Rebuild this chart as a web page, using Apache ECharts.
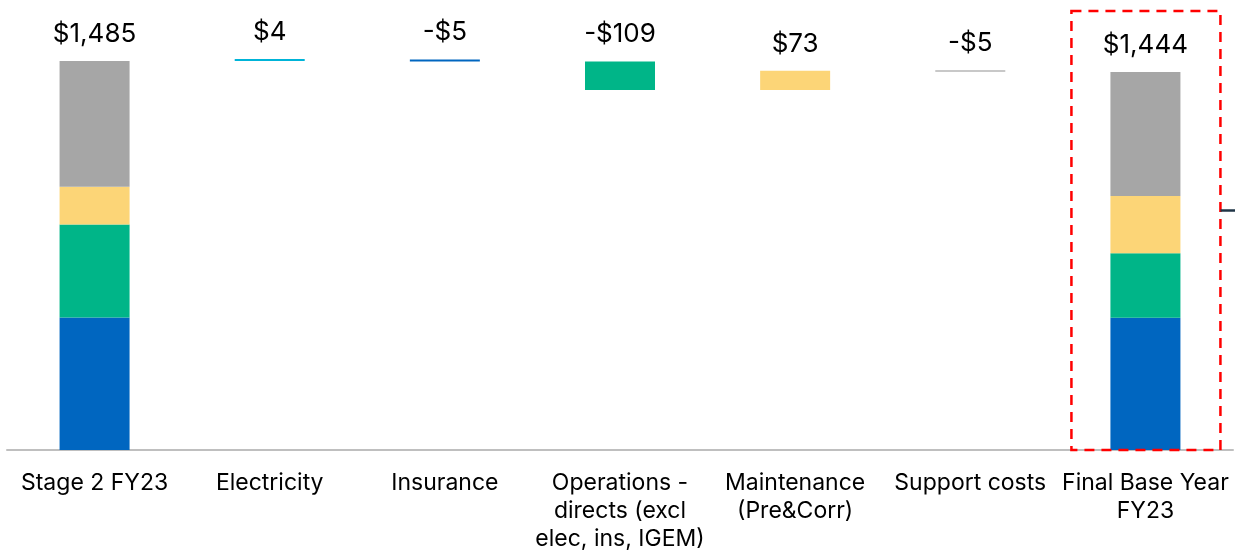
<!DOCTYPE html>
<html>
<head>
<meta charset="utf-8">
<script src="https://cdn.jsdelivr.net/npm/echarts@6/dist/echarts.min.js"></script>
<style>html,body{margin:0;padding:0;background:#fff;}#c{width:1235px;height:553px;}</style>
</head>
<body>
<div id="c"></div>
<script>
const categories = ['Stage 2 FY23','Electricity','Insurance','Operations -\ndirects (excl\nelec, ins, IGEM)','Maintenance\n(Pre&Corr)','Support costs','Final Base Year\nFY23'];
// stacked composition of the two total bars (start, end)
const startSegments = [506, 355, 144, 480];   // blue, green, yellow, gray
const endSegments   = [505, 246, 219, 473];
const changes = [4, -5, -109, 73, -5];
const changeColors = ['#00B4D8', '#0066C0', '#00B588', '#FCD577', '#C8C8C8'];
const segmentColors = ['#0066C0', '#00B588', '#FCD577', '#A6A6A6'];
const valueLabels = ['$1,485','$4','-$5','-$109','$73','-$5','$1,444'];

const n = categories.length;
const startTotal = startSegments.reduce((a,b)=>a+b,0);
const base = ['-'];
const delta = ['-'];
let run = startTotal;
changes.forEach((c,i)=>{
  const next = run + c;
  base.push(Math.min(run,next));
  delta.push({value: Math.abs(c), itemStyle:{color: changeColors[i]}});
  run = next;
});
base.push('-'); delta.push('-');

const topLabel = {show:true, position:'top', distance:14, color:'#000', fontSize:26,
  fontFamily:'Inter', formatter: p => valueLabels[p.dataIndex]};

const segSeries = segmentColors.map((col, k) => {
  const d = new Array(n).fill('-');
  d[0] = startSegments[k];
  d[n-1] = endSegments[k];
  const s = {
    type:'bar', stack:'w', barWidth:70, data:d,
    itemStyle:{color: col}, silent:true
  };
  if (k === segmentColors.length - 1) s.label = topLabel;
  return s;
});

const chart = echarts.init(document.getElementById('c'));
chart.setOption({
  animation:false,
  backgroundColor:'#fff',
  grid:{left:7, right:2, top:31, bottom:99, containLabel:false},
  xAxis:{type:'category', data:categories,
    axisLine:{lineStyle:{color:'#BFBFBF', width:2}},
    axisTick:{show:false},
    axisLabel:{interval:0, color:'#000', fontSize:23, fontFamily:'Inter', lineHeight:28, margin:19}},
  yAxis:{type:'value', min:0, max:1600, show:false, splitLine:{show:false}},
  series:[
    {type:'bar', stack:'w', barWidth:70, data:base, itemStyle:{color:'transparent'}, silent:true},
    ...segSeries,
    {type:'bar', stack:'w', barWidth:70, data:delta, barMinHeight:2, label:topLabel}
  ]
});

// annotation: dashed box around the final bar and a connector stub
const cx = chart.convertToPixel({xAxisIndex:0}, categories[n-1]);
const y0 = chart.convertToPixel({yAxisIndex:0}, 0);
chart.setOption({graphic:[
  {type:'rect', shape:{x:cx-74, y:11, width:149, height:y0-11},
    style:{fill:'none', stroke:'#FF0000', lineWidth:2.5, lineDash:[10,7]}, z:100},
  {type:'line', shape:{x1:cx+75, y1:210.5, x2:1235, y2:210.5},
    style:{stroke:'#1F3446', lineWidth:2.5}, z:100}
]});
</script>
</body>
</html>
